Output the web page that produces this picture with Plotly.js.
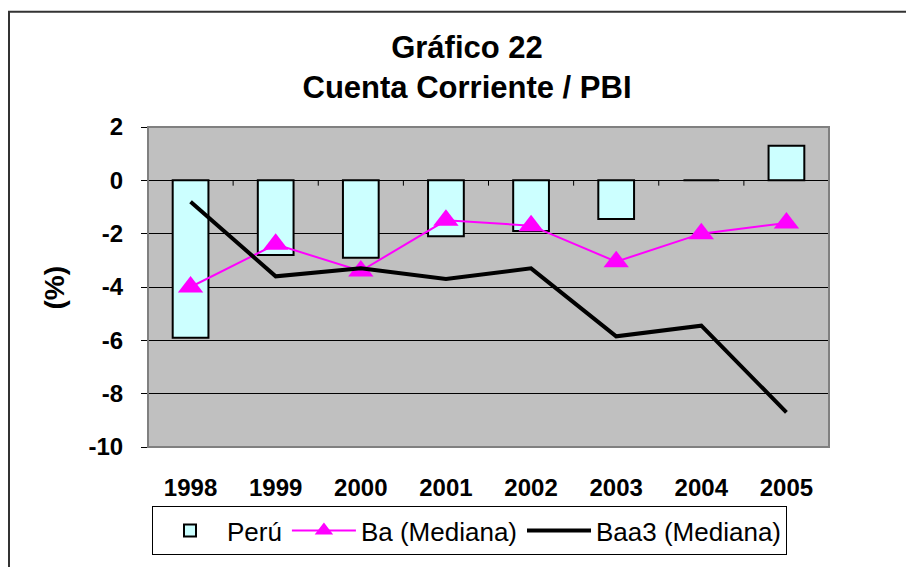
<!DOCTYPE html>
<html>
<head>
<meta charset="utf-8">
<script src="https://cdn.plot.ly/plotly-3.0.1.min.js"></script>
<style>
html,body{margin:0;padding:0;background:#fff;}
#chart{width:906px;height:567px;}
</style>
</head>
<body>
<div id="chart"></div>
<script>
const years = ['1998','1999','2000','2001','2002','2003','2004','2005'];
const peru = [-5.9, -2.8, -2.9, -2.1, -1.9, -1.45, 0.0, 1.3];
const baMediana = [-4.0, -2.4, -3.4, -1.5, -1.7, -3.05, -2.0, -1.6];
const baa3Mediana = [-0.8, -3.6, -3.3, -3.7, -3.3, -5.85, -5.45, -8.7];
const yTicks = [2, 0, -2, -4, -6, -8, -10];

const W = 906, H = 567;
const L = 148, R = 77, T = 127, B = 115;
const pw = W - L - R, ph = H - T - B;
const px = v => (v - L) / pw;
const py = v => (H - B - v) / ph;

const traces = [
  {
    type: 'bar', name: 'Perú', x: years, y: peru, width: 0.42,
    marker: {color: '#ccffff', line: {color: '#000000', width: 2}}
  },
  {
    type: 'scatter', mode: 'lines+markers', name: 'Ba (Mediana)', x: years, y: baMediana,
    line: {color: '#ff00ff', width: 2},
    marker: {symbol: 'triangle-up', size: 22, color: '#ff00ff'}
  },
  {
    type: 'scatter', mode: 'lines', name: 'Baa3 (Mediana)', x: years, y: baa3Mediana,
    line: {color: '#000000', width: 4}
  }
];

const shapes = [];
// category boundary tick marks on the zero line
for (let i = 1; i <= years.length; i++) {
  shapes.push({type: 'line', xref: 'x', yref: 'y', x0: i - 0.5, x1: i - 0.5, y0: 0, y1: -0.2,
    line: {color: '#000', width: 1}});
}
// outer chart frame
shapes.push({type: 'path', xref: 'paper', yref: 'paper',
  path: `M ${px(W + 10)} ${py(10)} L ${px(9)} ${py(10)} L ${px(9)} ${py(H + 10)}`,
  line: {color: '#333', width: 2}});

const layout = {
  width: W, height: H,
  margin: {l: L, r: R, t: T, b: B, pad: 0},
  paper_bgcolor: '#ffffff',
  plot_bgcolor: '#c0c0c0',
  font: {family: 'Arial, "Liberation Sans", sans-serif', color: '#000'},
  showlegend: true,
  title: {
    text: '<b>Gráfico 22</b><br><b>Cuenta Corriente / PBI</b>',
    font: {size: 31, color: '#000'},
    x: 467 / W, xanchor: 'center', xref: 'container',
    y: 1 - 58 / H, yanchor: 'middle', yref: 'container'
  },
  xaxis: {
    type: 'category',
    showgrid: false, zeroline: false, showline: false,
    ticks: '', ticklabelstandoff: 24,
    tickfont: {size: 24, color: '#000', weight: 'bold'},
    range: [-0.5, years.length - 0.5]
  },
  yaxis: {
    range: [-10, 2], tickvals: yTicks, ticktext: yTicks.map(String),
    showgrid: true, gridcolor: '#000', gridwidth: 1,
    zeroline: true, zerolinecolor: '#000', zerolinewidth: 1,
    showline: false,
    ticks: 'outside', ticklen: 6, tickcolor: '#000', tickwidth: 1,
    ticklabelstandoff: 13,
    tickfont: {size: 24, color: '#000', weight: 'bold'}
  },
  shapes: shapes.concat([{
    type: 'rect', xref: 'paper', yref: 'paper', x0: 0, x1: 1, y0: 0, y1: 1,
    line: {color: '#808080', width: 2}, fillcolor: 'rgba(0,0,0,0)', layer: 'above'
  }]),
  annotations: [{
    text: '<b>(%)</b>', xref: 'paper', yref: 'paper',
    x: px(54), y: py(290), xanchor: 'center', yanchor: 'middle',
    textangle: -90, showarrow: false, font: {size: 28, color: '#000'}
  }],
  legend: {
    orientation: 'h', x: px(152), y: py(512), xanchor: 'left', yanchor: 'top',
    bgcolor: '#ffffff', bordercolor: '#000', borderwidth: 1,
    font: {size: 26, color: '#000'}, itemwidth: 64, traceorder: 'normal'
  }
};

Plotly.newPlot('chart', traces, layout, {displayModeBar: false, staticPlot: true});
</script>
</body>
</html>
